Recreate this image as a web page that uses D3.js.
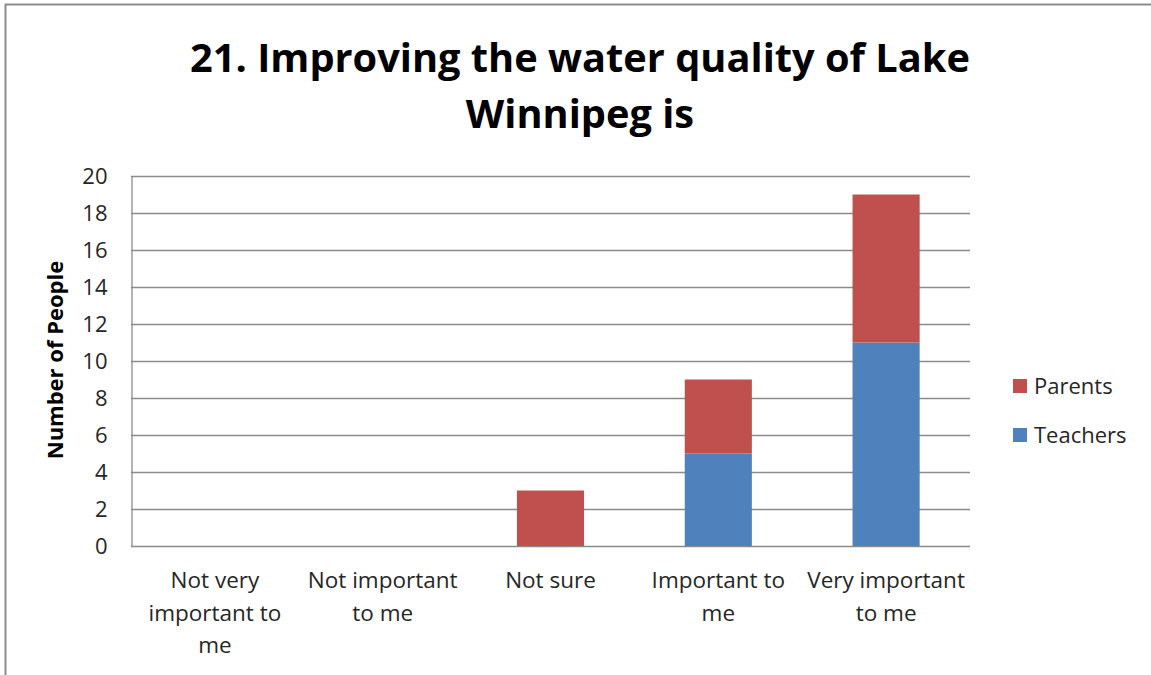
<!DOCTYPE html>
<html lang="en">
<head>
<meta charset="utf-8">
<style>
  body { margin: 0; background: #fff; }
  svg text { font-family: "Open Sans", "Liberation Sans", sans-serif; }
</style>
</head>
<body>
<svg id="chart" width="1151" height="675"></svg>
<script src="https://cdn.jsdelivr.net/npm/d3@7"></script>
<script>
var categories = [["Not very", "important to", "me"], ["Not important", "to me"], ["Not sure"], ["Important to", "me"], ["Very important", "to me"]];
var teachers = [0, 0, 0, 5, 11];
var parents = [0, 0, 3, 4, 8];
var yTicks = [0, 2, 4, 6, 8, 10, 12, 14, 16, 18, 20];
var seriesNames = ["Teachers", "Parents"];
var colors = { Teachers: "#4f81bd", Parents: "#c0504d" };

var svg = d3.select("#chart");

// outer frame (top and left edges show in the picture)
svg.append("line").attr("x1", 5).attr("x2", 1151).attr("y1", 4.5).attr("y2", 4.5)
    .attr("stroke", "#8c8c8c").attr("stroke-width", 2);
svg.append("line").attr("x1", 5.5).attr("x2", 5.5).attr("y1", 4).attr("y2", 675)
    .attr("stroke", "#8c8c8c").attr("stroke-width", 2);

var plotLeft = 131, plotRight = 970, plotTop = 176, plotBottom = 546;

var x = d3.scaleBand().domain(d3.range(categories.length)).range([plotLeft, plotRight]).padding(0);
var y = d3.scaleLinear().domain([0, 20]).range([plotBottom, plotTop]);

// gridlines
svg.append("g").selectAll("line").data(yTicks).enter().append("line")
    .attr("x1", plotLeft).attr("x2", plotRight)
    .attr("y1", function(d){ return Math.round(y(d)) + 0.5; })
    .attr("y2", function(d){ return Math.round(y(d)) + 0.5; })
    .attr("stroke", "#8a8a8a").attr("stroke-width", 1.3);

// stacked bars
var rows = categories.map(function(c, i){ return { i: i, Teachers: teachers[i], Parents: parents[i] }; });
var stack = d3.stack().keys(seriesNames)(rows);
var barW = x.bandwidth() * 0.4;

svg.append("g").selectAll("g").data(stack).enter().append("g")
    .attr("fill", function(d){ return colors[d.key]; })
    .selectAll("rect").data(function(d){ return d; }).enter().append("rect")
    .attr("x", function(d){ return x(d.data.i) + (x.bandwidth() - barW) / 2; })
    .attr("width", barW)
    .attr("y", function(d){ return y(d[1]); })
    .attr("height", function(d){ return y(d[0]) - y(d[1]); });

// y axis
var yAxis = svg.append("g").attr("transform", "translate(" + (plotLeft + 0.5) + ",0)")
    .call(d3.axisLeft(y).tickValues(yTicks).tickSize(0).tickPadding(24));
yAxis.select(".domain").attr("stroke", "#8a8a8a").attr("stroke-width", 1.3);
yAxis.selectAll("text").attr("font-size", 22).attr("fill", "#262626")
    .style("font-family", "'Open Sans', sans-serif");

// x category labels
var xl = svg.append("g").selectAll("text").data(categories).enter().append("text")
    .attr("text-anchor", "middle")
    .attr("font-size", 22.5).attr("fill", "#262626")
    .attr("x", function(d, i){ return x(i) + x.bandwidth() / 2; })
    .attr("y", 588);
xl.selectAll("tspan").data(function(d){ return d; }).enter().append("tspan")
    .attr("x", function(){ return d3.select(this.parentNode).attr("x"); })
    .attr("dy", function(d, j){ return j === 0 ? 0 : 32.5; })
    .text(function(d){ return d; });

// y axis title
svg.append("text")
    .attr("transform", "translate(63,360) rotate(-90)")
    .attr("text-anchor", "middle")
    .attr("font-size", 22).attr("font-weight", "bold").attr("fill", "#000")
    .text("Number of People");

// title, sized to the width it takes in the picture
var titleLines = ["21. Improving the water quality of Lake", "Winnipeg is"];
var title = svg.append("g").selectAll("text").data(titleLines).enter().append("text")
    .attr("x", 580).attr("y", function(d, i){ return 72 + i * 56; })
    .attr("text-anchor", "middle")
    .attr("font-weight", "bold").attr("font-size", 38).attr("fill", "#000")
    .text(function(d){ return d; });
var w0 = title.node().getComputedTextLength();
title.attr("font-size", 38 * 780 / w0);

// legend
var legendNames = ["Parents", "Teachers"];
var lg = svg.append("g").selectAll("g").data(legendNames).enter().append("g")
    .attr("transform", function(d, i){ return "translate(1013," + (379 + i * 49) + ")"; });
lg.append("rect").attr("width", 14).attr("height", 14)
    .attr("fill", function(d){ return colors[d]; });
lg.append("text").attr("x", 21).attr("y", 15).attr("font-size", 22).attr("fill", "#262626")
    .text(function(d){ return d; });
</script>
</body>
</html>
